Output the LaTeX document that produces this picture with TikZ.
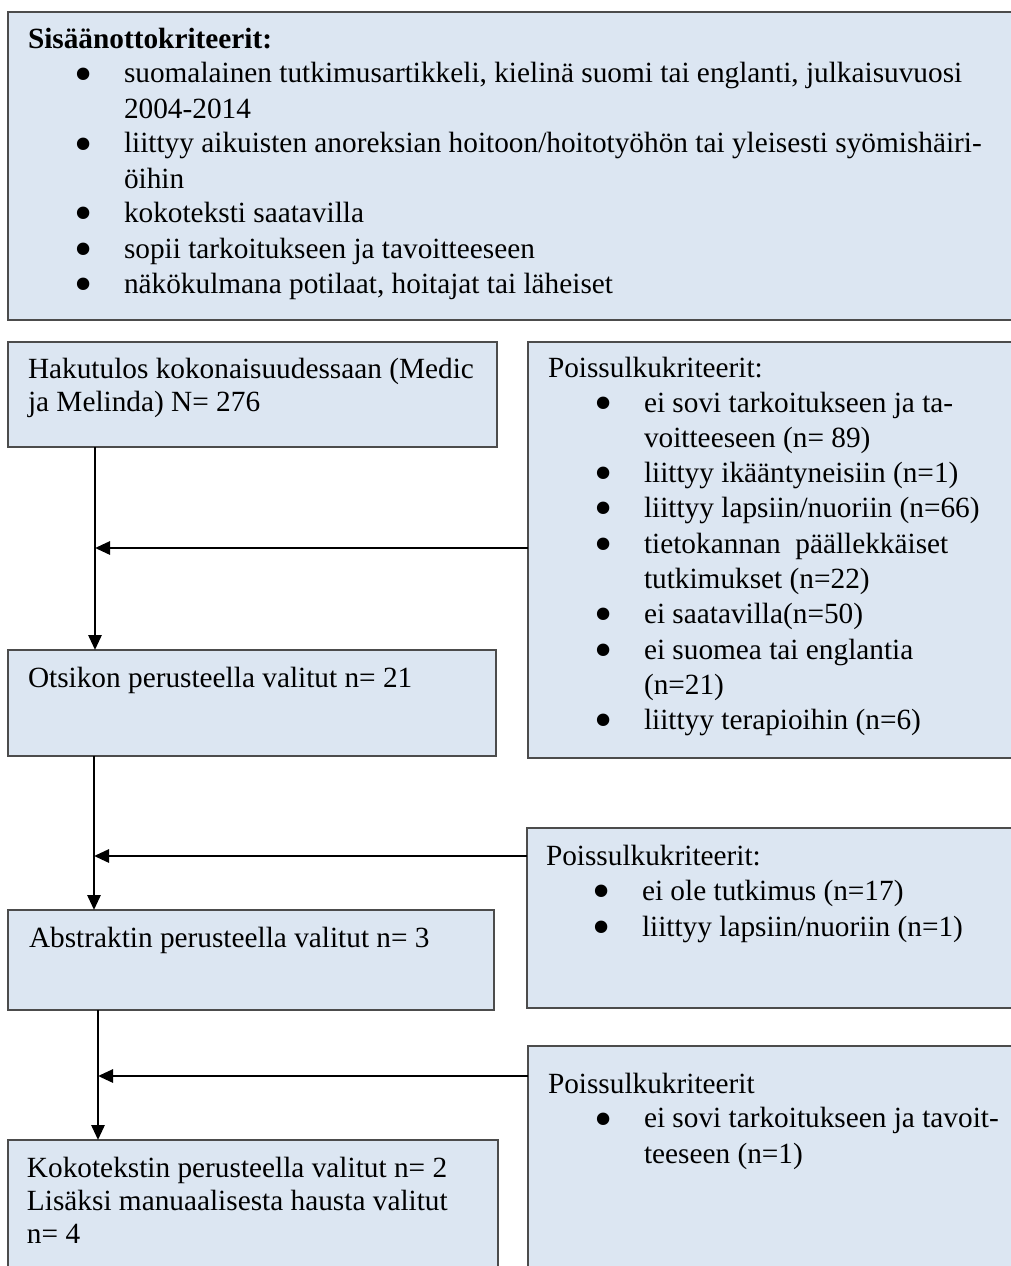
\documentclass[tikz,border=0pt]{standalone}
\usepackage{fontspec}
\setmainfont{Liberation Serif}
\usetikzlibrary{arrows.meta}
\definecolor{boxfill}{HTML}{DCE6F2}
\begin{document}
\begin{tikzpicture}[x=1pt,y=-1pt,
  panel/.style={draw=black!70, line width=1.3pt, fill=boxfill, inner sep=0pt, outer sep=0pt, anchor=north west},
  txt/.style={anchor=base west, inner sep=0pt, outer sep=0pt, align=left, font=\fontsize{29.3pt}{33pt}\selectfont},
  ltxt/.style={txt, font=\fontsize{29.3pt}{35.3pt}\selectfont},
  bul/.style={anchor=base west, inner sep=0pt, outer sep=0pt, yshift=-8pt, text height=18pt, text depth=0pt, font=\fontsize{52pt}{52pt}\selectfont},
  arr/.style={line width=2.8pt, -{Triangle[length=15pt,width=13pt]}}]
\useasboundingbox (0,0) rectangle (1011,1266);
\clip (0,0) rectangle (1011,1266);

% boxes
\node[panel, minimum width=1030pt, minimum height=308pt] (inc) at (8,12) {};
\node[panel, minimum width=489pt, minimum height=105pt] (b1) at (8,342) {};
\node[panel, minimum width=488pt, minimum height=106pt] (b2) at (8,650) {};
\node[panel, minimum width=486pt, minimum height=100pt] (b3) at (8,910) {};
\node[panel, minimum width=490pt, minimum height=170pt] (b4) at (8,1140) {};
\node[panel, minimum width=510pt, minimum height=416pt] (r1) at (528,342) {};
\node[panel, minimum width=510pt, minimum height=180pt] (r2) at (527,828) {};
\node[panel, minimum width=510pt, minimum height=260pt] (r3) at (528,1046) {};

% inclusion criteria (multi-line nodes are placed at the baseline of their last line)
\node[txt, font=\bfseries\fontsize{29.3pt}{35pt}\selectfont] (inct) at (28,48) {Sisäänottokriteerit:};
\node[bul] (ib1) at (74,83) {•};
\node[bul] (ib2) at (74,153) {•};
\node[bul] (ib3) at (74,222) {•};
\node[bul] (ib4) at (74,258) {•};
\node[bul] (ib5) at (74,293) {•};
\node[ltxt] (ii1) at (124,118) {suomalainen tutkimusartikkeli, kielinä suomi tai englanti, julkaisuvuosi\\2004-2014};
\node[ltxt] (ii2) at (124,188) {liittyy aikuisten anoreksian hoitoon/hoitotyöhön tai yleisesti syömishäiri-\\öihin};
\node[ltxt] (ii3) at (124,222) {kokoteksti saatavilla};
\node[ltxt] (ii4) at (124,258) {sopii tarkoitukseen ja tavoitteeseen};
\node[ltxt] (ii5) at (124,293) {näkökulmana potilaat, hoitajat tai läheiset};

% left flow texts
\node[txt] (t1) at (28,411) {Hakutulos kokonaisuudessaan (Medic\\ja Melinda) N= 276};
\node[txt] (t2) at (28,687) {Otsikon perusteella valitut n= 21};
\node[txt] (t3) at (29,947) {Abstraktin perusteella valitut n= 3};
\node[txt] (t4) at (27,1243) {Kokotekstin perusteella valitut n= 2\\Lisäksi manuaalisesta hausta valitut\\n= 4};

% exclusion 1
\node[ltxt] (r1t) at (548,377) {Poissulkukriteerit:};
\node[bul] (rb11) at (594,412) {•};
\node[bul] (rb12) at (594,482.6) {•};
\node[bul] (rb13) at (594,517.9) {•};
\node[bul] (rb14) at (594,553.2) {•};
\node[bul] (rb15) at (594,623.8) {•};
\node[bul] (rb16) at (594,659.1) {•};
\node[bul] (rb17) at (594,729.7) {•};
\node[ltxt] (ri11) at (644,447.3) {ei sovi tarkoitukseen ja ta-\\voitteeseen (n= 89)};
\node[ltxt] (ri12) at (644,482.6) {liittyy ikääntyneisiin (n=1)};
\node[ltxt] (ri13) at (644,517.9) {liittyy lapsiin/nuoriin (n=66)};
\node[ltxt] (ri14) at (644,588.5) {tietokannan \ päällekkäiset\\tutkimukset (n=22)};
\node[ltxt] (ri15) at (644,623.8) {ei saatavilla(n=50)};
\node[ltxt] (ri16) at (644,694.4) {ei suomea tai englantia\\(n=21)};
\node[ltxt] (ri17) at (644,729.7) {liittyy terapioihin (n=6)};

% exclusion 2
\node[ltxt] (r2t) at (546,865) {Poissulkukriteerit:};
\node[bul] (rb21) at (592,900) {•};
\node[bul] (rb22) at (592,936) {•};
\node[ltxt] (ri21) at (642,900) {ei ole tutkimus (n=17)};
\node[ltxt] (ri22) at (642,936) {liittyy lapsiin/nuoriin (n=1)};

% exclusion 3
\node[ltxt] (r3t) at (548,1093) {Poissulkukriteerit};
\node[bul] (rb31) at (594,1128) {•};
\node[ltxt] (ri31) at (644,1163) {ei sovi tarkoitukseen ja tavoit-\\teeseen (n=1)};

% connectors
\coordinate (c1) at (95,548);
\coordinate (c2) at (94,856);
\coordinate (c3) at (98,1076);
\draw[arr] (b1.south -| c1) -- (b2.north -| c1);
\draw[arr] (r1.west |- c1) -- (c1);
\draw[arr] (b2.south -| c2) -- (b3.north -| c2);
\draw[arr] (r2.west |- c2) -- (c2);
\draw[arr] (b3.south -| c3) -- (b4.north -| c3);
\draw[arr] (r3.west |- c3) -- (c3);
\end{tikzpicture}
\end{document}
